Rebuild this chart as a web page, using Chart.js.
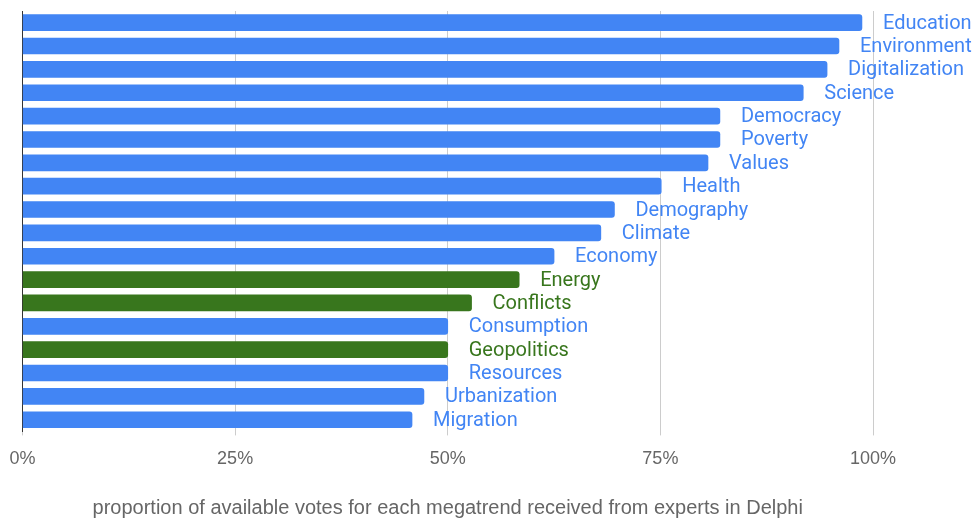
<!DOCTYPE html>
<html>
<head>
<meta charset="utf-8">
<title>Megatrends</title>
<script src="https://cdn.jsdelivr.net/npm/chart.js@4"></script>
<style>
  html, body { margin: 0; padding: 0; background: #fff; }
  #wrap { width: 978px; height: 523px; position: relative; }
</style>
</head>
<body>
<div id="wrap"><canvas id="myChart"></canvas></div>
<script>
  "use strict";

  // megatrends, sorted by share of votes
  const megatrends = [
    "Education", "Environment", "Digitalization", "Science", "Democracy",
    "Poverty", "Values", "Health", "Demography", "Climate", "Economy",
    "Energy", "Conflicts", "Consumption", "Geopolitics", "Resources",
    "Urbanization", "Migration",
  ];

  // share of available votes (percent)
  const voteShare = [
    98.7, 96.0, 94.6, 91.8, 82.0, 82.0, 80.6, 75.1, 69.6, 68.0, 62.5,
    58.4, 52.8, 50.0, 50.0, 50.0, 47.2, 45.8,
  ];

  // trends shown in green
  const securityTrends = ["Energy", "Conflicts", "Geopolitics"];

  const xTicks = [0, 25, 50, 75, 100];

  const BLUE = "#4285f4";
  const GREEN = "#38761d";

  const barColors = megatrends.map((m) =>
    securityTrends.includes(m) ? GREEN : BLUE
  );

  // category name written just past the end of each bar
  const barLabels = {
    id: "barLabels",
    afterDatasetsDraw(chart) {
      const ctx = chart.ctx;
      const meta = chart.getDatasetMeta(0);
      ctx.save();
      ctx.font = "20px Roboto";
      ctx.textAlign = "left";
      ctx.textBaseline = "middle";
      meta.data.forEach((bar, i) => {
        ctx.fillStyle = barColors[i];
        ctx.fillText(megatrends[i], bar.x + 21, bar.y + 1);
      });
      ctx.restore();
    },
  };

  const canvas = document.getElementById("myChart");
  new Chart(canvas.getContext("2d"), {
    type: "bar",
    data: {
      labels: megatrends,
      datasets: [
        {
          data: voteShare,
          backgroundColor: barColors,
          borderRadius: 3,
          barThickness: 16,
        },
      ],
    },
    options: {
      indexAxis: "y",
      responsive: true,
      maintainAspectRatio: false,
      animation: false,
      layout: { padding: { left: 22.5, right: 105, top: 11, bottom: 3 } },
      plugins: {
        legend: { display: false },
        tooltip: { enabled: false },
      },
      scales: {
        x: {
          min: 0,
          max: 100,
          afterBuildTicks(scale) {
            scale.ticks = xTicks.map((v) => ({ value: v }));
          },
          // edge labels may hang past the plot, the padding already leaves room
          afterFit(scale) {
            scale.paddingLeft = 0;
            scale.paddingRight = 0;
          },
          grid: { color: "#cccccc", lineWidth: 1, tickLength: 4 },
          border: { display: false },
          ticks: {
            color: "#666666",
            padding: 13,
            maxRotation: 0,
            font: { family: "'Liberation Sans', Arial", size: 18 },
            callback: (v) => v + "%",
          },
          title: {
            display: true,
            text: "proportion of available votes for each megatrend received from experts in Delphi",
            color: "#666666",
            padding: { top: 13, bottom: 0 },
            font: { family: "'Liberation Sans', Arial", size: 20 },
          },
        },
        y: {
          grid: { display: false, drawTicks: false },
          border: { display: true, color: "#333333", width: 1 },
          ticks: { display: false },
        },
      },
    },
    plugins: [barLabels],
  });
</script>
</body>
</html>
